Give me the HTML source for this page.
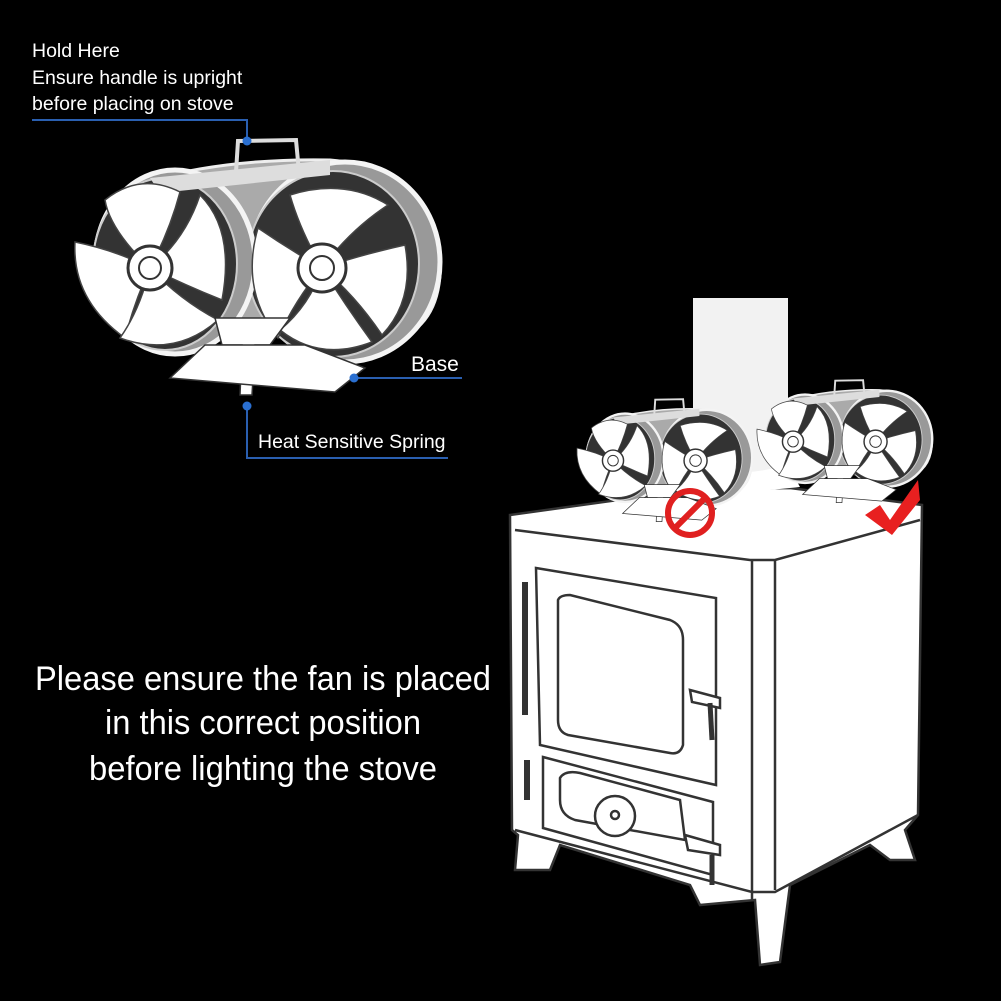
<!DOCTYPE html>
<html><head><meta charset="utf-8"><style>
html,body{margin:0;padding:0;background:#000;}
svg{display:block}
text{font-family:"Liberation Sans",Arial,sans-serif;fill:#fff}
</style></head><body>
<svg width="1001" height="1001" viewBox="0 0 1001 1001" xmlns="http://www.w3.org/2000/svg">
<defs>
<g id="fan">
  <!-- housing -->
  <path d="M150,180 Q230,158 330,160 Q425,168 440,250 Q445,320 400,338 L240,330 Z" fill="#aaa" stroke="#eee" stroke-width="3"/>
  <ellipse cx="345" cy="262" rx="95" ry="100" fill="#999" stroke="#f4f4f4" stroke-width="5"/>
  <ellipse cx="333" cy="264" rx="86" ry="93" fill="#333" stroke="#ccc" stroke-width="2"/>
  <ellipse cx="175" cy="262" rx="80" ry="92" fill="#999" stroke="#f4f4f4" stroke-width="5"/>
  <ellipse cx="165" cy="264" rx="72" ry="86" fill="#333" stroke="#ccc" stroke-width="2"/>
  <path d="M150,178 L330,160 L330,175 L160,193 Z" fill="#ddd"/>
  <!-- left blades -->
  <path d="M150,268 Q110,230 105,200 Q140,172 180,192 Q170,230 150,268 Z" fill="#fff" stroke="#444" stroke-width="1.5"/>
  <path d="M150,268 Q115,250 75,242 Q72,300 125,338 Q135,300 150,268 Z" fill="#fff" stroke="#444" stroke-width="1.5"/>
  <path d="M150,268 Q140,310 120,338 Q175,358 218,320 Q180,300 150,268 Z" fill="#fff" stroke="#444" stroke-width="1.5"/>
  <path d="M150,268 Q185,240 200,195 Q235,230 222,300 Q185,285 150,268 Z" fill="#fff" stroke="#444" stroke-width="1.5"/>
  <circle cx="150" cy="268" r="22" fill="#fff" stroke="#333" stroke-width="3"/>
  <circle cx="150" cy="268" r="11" fill="#fff" stroke="#333" stroke-width="2"/>
  <!-- right blades -->
  <path d="M322,268 Q290,250 258,228 Q240,290 278,338 Q295,300 322,268 Z" fill="#fff" stroke="#444" stroke-width="1.5"/>
  <path d="M322,268 Q300,230 290,195 Q345,178 388,205 Q350,230 322,268 Z" fill="#fff" stroke="#444" stroke-width="1.5"/>
  <path d="M322,268 Q360,255 405,245 Q415,300 382,335 Q355,295 322,268 Z" fill="#fff" stroke="#444" stroke-width="1.5"/>
  <path d="M322,268 Q310,305 280,330 Q320,362 372,342 Q345,305 322,268 Z" fill="#fff" stroke="#444" stroke-width="1.5"/>
  <circle cx="322" cy="268" r="24" fill="#fff" stroke="#333" stroke-width="3"/>
  <circle cx="322" cy="268" r="12" fill="#fff" stroke="#333" stroke-width="2"/>
  <!-- base -->
  <path d="M215,318 L290,318 L270,345 L255,345 L252,395 L240,395 L242,345 L222,345 Z" fill="#fff" stroke="#333" stroke-width="1.5"/>
  <path d="M205,345 L305,345 L365,368 L335,392 L170,378 Z" fill="#fff" stroke="#333" stroke-width="1.5"/>
  <!-- handle -->
  <path d="M236,172 L238,141 L296,140 L299,172" fill="none" stroke="#ddd" stroke-width="4"/>
</g>
</defs>
<rect width="1001" height="1001" fill="#000"/>

<use href="#fan"/>

<text x="32" y="57" font-size="19.5">Hold Here</text>
<text x="32" y="84" font-size="19.5">Ensure handle is upright</text>
<text x="32" y="110" font-size="19.5">before placing on stove</text>
<path d="M32,120 H247 V140" fill="none" stroke="#2a5fb0" stroke-width="2"/>
<circle cx="247" cy="141" r="4.5" fill="#2a6fd0"/>
<text x="411" y="371" font-size="21">Base</text>
<path d="M352,378 H462" stroke="#2a5fb0" stroke-width="2"/>
<circle cx="354" cy="378" r="4.5" fill="#2a6fd0"/>
<path d="M247,406 V458 H448" fill="none" stroke="#2a5fb0" stroke-width="2"/>
<circle cx="247" cy="406" r="4.5" fill="#2a6fd0"/>
<text x="258" y="448" font-size="19.5">Heat Sensitive Spring</text>

<text x="263" y="690" font-size="34" text-anchor="middle" textLength="456" lengthAdjust="spacingAndGlyphs">Please ensure the fan is placed</text>
<text x="263" y="734" font-size="34" text-anchor="middle" textLength="316" lengthAdjust="spacingAndGlyphs">in this correct position</text>
<text x="263" y="780" font-size="34" text-anchor="middle" textLength="348" lengthAdjust="spacingAndGlyphs">before lighting the stove</text>

<g stroke="#333" stroke-width="2.5" fill="#fff">
  <path d="M510,515 L690,490 L790,488 L922,505 L918,815 L905,830 L915,860 L890,860 L870,845 L790,885 L780,962 L760,965 L755,900 L700,905 L690,885 L560,845 L550,870 L515,870 L518,835 L512,830 Z"/>
  <path d="M515,530 L750,560 L775,560 L920,520" fill="none"/>
  <path d="M752,560 L752,900 M775,560 L775,890" fill="none"/>
  <path d="M515,830 L752,892 L775,892 L918,815" fill="none"/>
  <path d="M536,568 L716,598 L716,785 L540,745 Z"/>
  <path d="M558,600 Q560,595 570,595 L670,620 Q683,625 683,640 L683,745 Q680,755 670,753 L568,735 Q558,732 558,720 Z"/>
  <path d="M690,690 L720,698 L720,708 L692,702 Z"/>
  <path d="M710,703 L712,740" fill="none" stroke-width="5"/>
  <path d="M525,582 L525,715" fill="none" stroke-width="6"/>
  <path d="M543,757 L713,802 L713,875 L543,828 Z"/>
  <path d="M560,778 Q565,770 580,773 L680,800 L685,840 L575,820 Q560,815 560,800 Z"/>
  <circle cx="615" cy="816" r="20"/>
  <circle cx="615" cy="815" r="4"/>
  <path d="M685,835 L720,845 L720,855 L688,850 Z"/>
  <path d="M712,855 L712,885" fill="none" stroke-width="5"/>
  <path d="M527,760 L527,800" fill="none" stroke-width="6"/>
  <rect x="693" y="298" width="95" height="178" stroke="none" fill="#f2f2f2"/>
</g>
<path d="M693,470 Q740,478 788,465 L800,487 L720,495 Z" fill="#fff"/>

<use href="#fan" transform="translate(541,332) scale(0.48)"/>
<use href="#fan" transform="translate(721,313) scale(0.48)"/>

<circle cx="690" cy="513" r="22" fill="none" stroke="#e02020" stroke-width="6"/>
<path d="M675,528 L705,498" stroke="#e02020" stroke-width="6"/>
<path d="M865,515 L880,505 L890,520 L918,480 L920,500 L892,535 Z" fill="#e82020"/>
</svg>
</body></html>
